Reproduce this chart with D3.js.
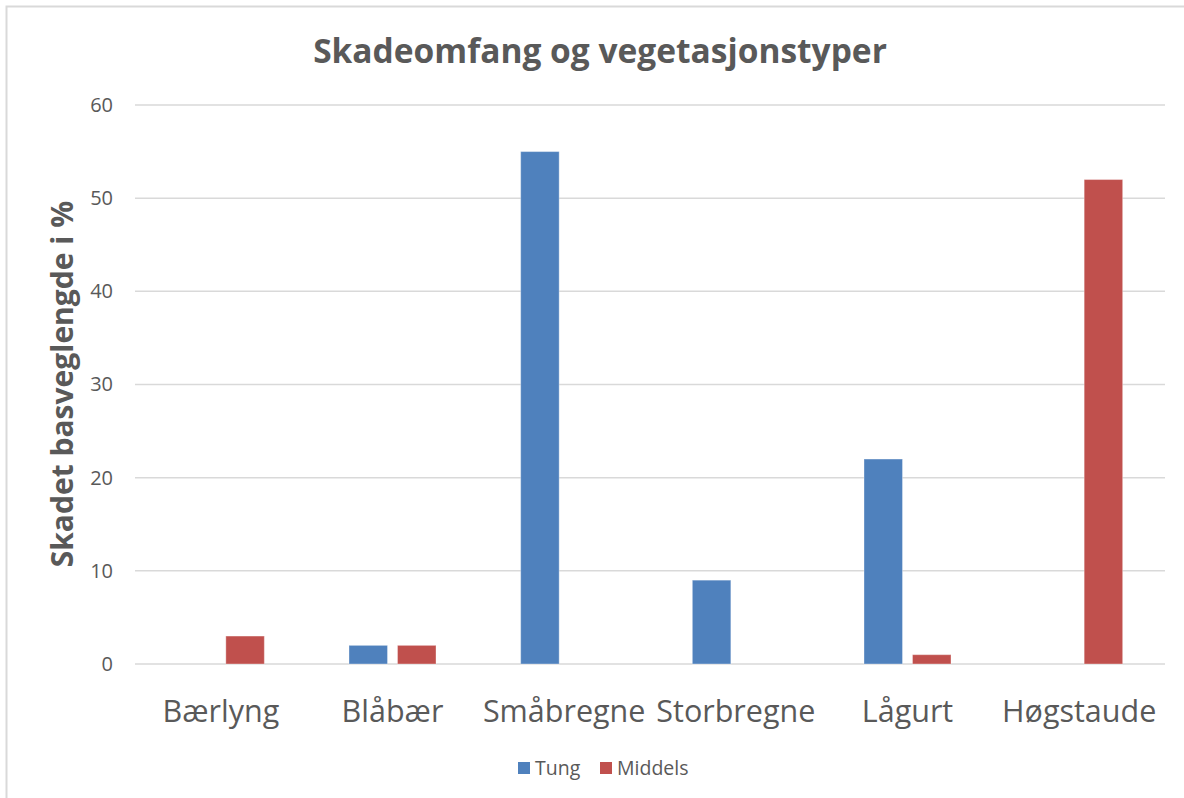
<!DOCTYPE html>
<html>
<head>
<meta charset="utf-8">
<script src="https://cdn.jsdelivr.net/npm/d3@7"></script>
<style>
    body { margin: 0; background: #fff; }
    svg { display: block; font-family: "Open Sans", sans-serif; }
</style>
</head>
<body>
<svg width="1184" height="798"></svg>
<script>
"use strict";

// Chart data
var categories = ["Bærlyng", "Blåbær", "Småbregne", "Storbregne", "Lågurt", "Høgstaude"];
var seriesNames = ["Tung", "Middels"];
var tungValues = [0, 2, 55, 9, 22, 0];
var middelsValues = [3, 2, 0, 0, 1, 52];
var yTicks = [0, 10, 20, 30, 40, 50, 60];

var colors = { "Tung": "#4f81bd", "Middels": "#c0504d" };
var textColor = "#595959";

var svg = d3.select("svg");

// Outer chart border (only top and left visible in frame)
svg.append("rect")
    .attr("x", 6.5)
    .attr("y", 6.5)
    .attr("width", 1300)
    .attr("height", 900)
    .attr("fill", "none")
    .attr("stroke", "#d9d9d9")
    .attr("stroke-width", 2);

var plot = { left: 135, right: 1165, top: 105, bottom: 664 };

// Scales
var x0 = d3.scaleBand()
    .domain(categories)
    .range([plot.left, plot.right]);

var x1 = d3.scaleBand()
    .domain(seriesNames)
    .range([0, x0.bandwidth()])
    .paddingInner(0.206)
    .paddingOuter(0.873);

var y = d3.scaleLinear()
    .domain([0, 60])
    .range([plot.bottom, plot.top]);

// Gridlines
svg.append("g")
    .attr("class", "grid")
    .selectAll("line")
    .data(yTicks)
    .enter().append("line")
        .attr("x1", plot.left)
        .attr("x2", plot.right)
        .attr("y1", function (d) { return y(d); })
        .attr("y2", function (d) { return y(d); })
        .attr("stroke", "#d9d9d9")
        .attr("stroke-width", 1.5);

// Y axis labels
var yAxis = d3.axisLeft(y)
    .tickValues(yTicks)
    .tickSize(0)
    .tickPadding(22);

var yAxisG = svg.append("g")
    .attr("transform", "translate(" + plot.left + ",0)")
    .call(yAxis);
yAxisG.select(".domain").remove();
yAxisG.selectAll("text")
    .attr("fill", textColor)
    .style("font-size", "20px")
    .style("font-family", "Open Sans");

// X axis labels
var xAxis = d3.axisBottom(x0)
    .tickSize(0)
    .tickPadding(36);

var xAxisG = svg.append("g")
    .attr("transform", "translate(0," + plot.bottom + ")")
    .call(xAxis);
xAxisG.select(".domain").remove();
xAxisG.selectAll("text")
    .attr("fill", textColor)
    .style("font-size", "30.5px")
    .style("font-family", "Open Sans");

// Bars
var rows = categories.map(function (c, i) {
    return { category: c, values: [
        { name: "Tung", value: tungValues[i] },
        { name: "Middels", value: middelsValues[i] }
    ] };
});

svg.append("g")
    .attr("class", "bars")
    .selectAll("g")
    .data(rows)
    .enter().append("g")
        .attr("transform", function (d) { return "translate(" + x0(d.category) + ",0)"; })
    .selectAll("rect")
    .data(function (d) { return d.values.filter(function (v) { return v.value > 0; }); })
    .enter().append("rect")
        .attr("x", function (d) { return x1(d.name); })
        .attr("y", function (d) { return y(d.value); })
        .attr("width", x1.bandwidth())
        .attr("height", function (d) { return y(0) - y(d.value); })
        .attr("fill", function (d) { return colors[d.name]; })
        .attr("stroke", "#fff")
        .attr("stroke-opacity", 0.35)
        .attr("stroke-width", 1);

// Title
svg.append("text")
    .attr("x", 600)
    .attr("y", 63)
    .style("text-anchor", "middle")
    .style("font-size", "33.5px")
    .style("font-weight", "bold")
    .attr("fill", textColor)
    .text("Skadeomfang og vegetasjonstyper");

// Y axis title
svg.append("text")
    .attr("transform", "translate(73, 384) rotate(-90)")
    .style("text-anchor", "middle")
    .style("font-size", "30px")
    .style("font-weight", "bold")
    .attr("fill", textColor)
    .text("Skadet basveglengde i %");

// Legend
var legend = svg.append("g")
    .attr("class", "legend")
    .attr("transform", "translate(518, 768)");

var legendX = [0, 82];
var item = legend.selectAll("g")
    .data(seriesNames)
    .enter().append("g")
        .attr("transform", function (d, i) { return "translate(" + legendX[i] + ",0)"; });

item.append("rect")
    .attr("x", 0)
    .attr("y", -6)
    .attr("width", 12)
    .attr("height", 12)
    .attr("fill", function (d) { return colors[d]; });

item.append("text")
    .attr("x", 17)
    .attr("y", 0)
    .attr("dy", "0.35em")
    .style("font-size", "19.5px")
    .attr("fill", textColor)
    .text(function (d) { return d; });
</script>
</body>
</html>
